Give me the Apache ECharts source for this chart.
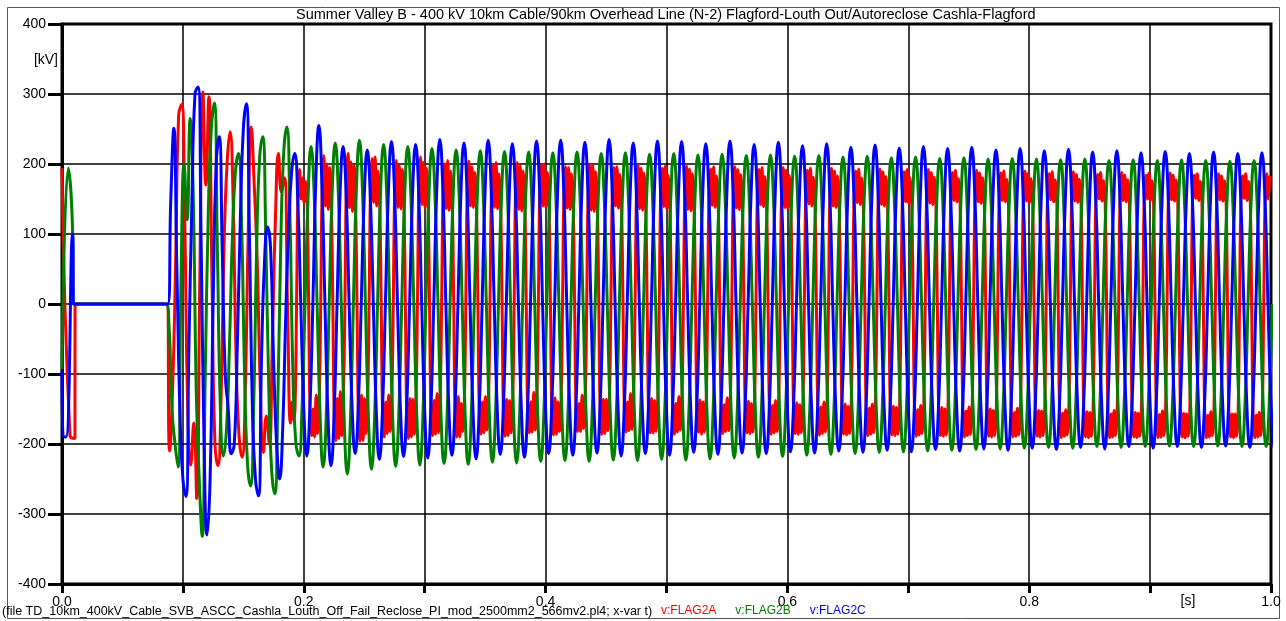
<!DOCTYPE html>
<html>
<head>
<meta charset="utf-8">
<script src="https://cdn.jsdelivr.net/npm/echarts@6/dist/echarts.min.js"></script>
<style>
  html, body { margin: 0; background: #fff; }
  #chart { width: 1286px; height: 621px; }
</style>
</head>
<body>
<div id="chart"></div>
<script>
// sample steps [s]
const dt = 0.0025
const dtFine = 0.00125

// pre-switching segment (t, kV)
const redStartT = [0, 0.0066, 0.0107, 0.0108]
const redStartV = [194, -188, -192, 0]
const greenStartT = [0, 0.0052, 0.0088, 0.0095]
const greenStartV = [-93, 194, 100, 0]
const blueStartT = [0, 0.0011, 0.0033, 0.0088, 0.0096]
const blueStartV = [-95, -190, -190, 100, 0]

// first sample time of each sampled part
const redT0 = 0.0865
const redSteadyT0 = 0.189
const greenT0 = 0.086
const blueT0 = 0.0875

// v:FLAG2A switching transient, step dt
const redTransient = [
  0,
  -210, -120, 60, 270, 285, 120, -150, -230,
  -170, -278, 40, 303, 170, 296, 40, -200,
  -231, -140, 80, 200, 246, 150, -80, -190,
  -219, -130, 100, 253, 170, 60, -120, -212,
  -160, -200, -50, 120, 215, 160, 180, 0
]

// v:FLAG2A after the transient, step dtFine, one cycle per line
const redSteady = [
  -170, -140, -165, -150, 0, 165, 192, 150, 180, 145, 175, 150, 0, -160, -188, -150,
  -190, -130, -185, -140, 0, 175, 212, 140, 200, 135, 195, 150, 0, -170, -195, -135,
  -192, -125, -188, -135, 0, 178, 215, 138, 203, 132, 197, 148, 0, -168, -196, -130,
  -195, -135, -185, -145, 0, 172, 208, 145, 210, 140, 190, 152, 0, -165, -190, -140,
  -185, -130, -182, -140, 0, 170, 205, 138, 198, 136, 192, 150, 0, -168, -192, -135,
  -190, -136, -186, -142, 0, 174, 210, 142, 202, 138, 194, 148, 0, -166, -188, -138,
  -186, -128, -184, -138, 0, 168, 200, 136, 205, 134, 190, 150, 0, -170, -190, -132,
  -190, -142, -182, -146, 0, 172, 204, 140, 196, 138, 188, 146, 0, -164, -186, -140,
  -184, -132, -180, -140, 0, 166, 198, 138, 202, 136, 186, 148, 0, -166, -189, -136,
  -188, -138, -184, -144, 0, 170, 202, 135, 197, 133, 190, 150, 0, -162, -184, -140,
  -183, -126, -180, -138, 0, 168, 199, 140, 200, 138, 188, 146, 0, -165, -187, -134,
  -186, -140, -182, -145, 0, 166, 196, 137, 195, 135, 186, 148, 0, -163, -182, -142,
  -182, -130, -178, -140, 0, 169, 200, 134, 198, 132, 189, 150, 0, -166, -186, -136,
  -185, -136, -181, -143, 0, 167, 195, 140, 196, 137, 185, 147, 0, -162, -183, -140,
  -181, -128, -179, -139, 0, 168, 198, 136, 194, 134, 187, 149, 0, -164, -184, -135,
  -184, -138, -182, -146, 0, 166, 194, 139, 197, 136, 184, 147, 0, -163, -186, -142,
  -183, -132, -180, -141, 0, 168, 197, 135, 193, 133, 186, 150, 0, -165, -183, -137,
  -186, -140, -183, -147, 0, 165, 193, 141, 196, 138, 183, 146, 0, -162, -185, -144,
  -182, -134, -181, -143, 0, 167, 196, 137, 192, 135, 185, 149, 0, -164, -184, -139,
  -185, -142, -183, -148, 0, 165, 192, 142, 195, 139, 182, 147, 0, -163, -186, -145,
  -184, -138, -182, -145, 0, 166, 195, 138, 191, 136, 184, 150, 0, -165, -185, -141,
  -186, -144, -184, -150, 0, 164, 191, 143, 194, 140, 181, 148, 0, -162, -187, -147,
  -185, -140, -183, -147, 0, 166, 194, 140, 190, 138, 183, 150, 0, -164, -186, -143,
  -187, -146, -185, -151, 0, 164, 190, 145, 193, 142, 180, 149, 0, -163, -188, -149,
  -186, -143, -184, -149, 0, 165, 193, 142, 189, 140, 182, 151, 0, -165, -187, -146,
  -188, -148, -186, -153, 0, 163, 189, 146, 192, 144, 180, 150, 0, -162, -189, -151,
  -187, -145, -185, -151, 0, 165, 192, 144, 188, 142, 181, 152, 0, -164, -188, -148,
  -189, -150, -187, -155, 0, 163, 188, 148, 191, 146, 179, 151, 0, -163, -190, -153,
  -188, -147, -186, -153, 0, 164, 191, 146, 187, 144, 180, 153, 0, -165, -189, -150,
  -190, -152, -188, -156, 0, 162, 187, 148, 190, 146, 178, 152, 0, -162, -190, -155,
  -189, -149, -187, -154, 0, 164, 190, 147, 186, 145, 179, 153, 0, -164, -189, -152,
  -190, -153, -188, -157, 0, 162, 186, 149, 189, 146, 177, 152, 0, -163, -191, -156,
  -189, -151, -187, -155, 0, 163, 189, 147, 185, 145, 178, 154, 0, -164, -190, -154,
  -191, -155, -189, -158, 0, 161, 185, 150, 188, 147, 176, 153, 0, -162, -191, -157,
  -190, -152, -188, -156, 0, 163, 188, 148, 184, 146, 177, 154, 0, -164, -190, -155,
  -191, -156, -189, -159, 0, 161, 184, 150, 187, 148, 176, 154, 0, -163, -191, -158,
  -190, -153, -188, -157, 0, 162, 187, 149, 184, 147, 177, 155, 0, -164, -190, -156,
  -191, -157, -189, -160, 0, 161, 184, 151, 186, 148, 175, 154, 0, -162, -191, -159,
  -190, -154, -188, -158, 0, 162, 186, 149, 183, 147, 176, 155, 0, -164, -190, -157,
  -191, -157, -189, -160, 0, 161, 183, 151, 186, 148, 175, 155, 0, -163, -191, -159,
  -190, -155, -188, -158, 0, 162, 186, 150, 183
]

// v:FLAG2B, step dt, one cycle per line
const greenWave = [
  0, -30, -150, -200,
  -233, 40, 200, 120, 265, 160, -120, -250,
  -332, -100, 130, 250, 287, 80, -150, -217,
  -180, -60, 100, 190, 215, 120, -100, -230,
  -260, -150, 80, 210, 239, 100, -120, -240,
  -271, -140, 90, 220, 253, 130, -100, -200,
  -217, -150, 0, 150, 225, 160, 0, -160,
  -233, -164, 0, 161, 230, 161, 0, -170,
  -243, -170, 0, 164, 234, 164, 0, -165,
  -236, -165, 0, 160, 228, 160, 0, -162,
  -232, -162, 0, 158, 225, 158, 0, -161,
  -230, -161, 0, 155, 222, 155, 0, -160,
  -228, -160, 0, 154, 220, 154, 0, -160,
  -229, -160, 0, 153, 219, 153, 0, -158,
  -226, -158, 0, 153, 218, 153, 0, -159,
  -227, -159, 0, 152, 217, 152, 0, -158,
  -225, -158, 0, 151, 216, 152, 0, -157,
  -224, -157, 0, 152, 217, 152, 0, -158,
  -225, -157, 0, 150, 215, 150, 0, -156,
  -223, -156, 0, 151, 216, 151, 0, -157,
  -224, -157, 0, 150, 214, 150, 0, -155,
  -222, -155, 0, 150, 215, 150, 0, -156,
  -223, -156, 0, 149, 213, 149, 0, -155,
  -221, -155, 0, 150, 214, 150, 0, -154,
  -220, -154, 0, 148, 212, 148, 0, -153,
  -219, -153, 0, 149, 213, 149, 0, -153,
  -218, -153, 0, 148, 211, 148, 0, -151,
  -216, -151, 0, 148, 212, 148, 0, -150,
  -215, -150, 0, 147, 210, 147, 0, -150,
  -214, -150, 0, 148, 211, 148, 0, -148,
  -212, -148, 0, 146, 209, 146, 0, -148,
  -211, -148, 0, 147, 210, 147, 0, -147,
  -210, -147, 0, 146, 208, 146, 0, -146,
  -209, -146, 0, 146, 209, 146, 0, -146,
  -208, -146, 0, 145, 207, 145, 0, -145,
  -207, -145, 0, 146, 208, 146, 0, -144,
  -206, -144, 0, 145, 207, 145, 0, -144,
  -205, -144, 0, 144, 206, 144, 0, -144,
  -206, -144, 0, 145, 207, 145, 0, -143,
  -204, -143, 0, 144, 205, 144, 0, -144,
  -205, -144, 0, 144, 206, 144, 0, -143,
  -204, -143, 0, 144, 205, 144, 0, -142,
  -203, -142, 0, 144, 206, 144, 0, -143,
  -204, -143, 0, 144, 205, 144, 0, -142,
  -203, -142, 0, 143, 204, 143, 0, -143,
  -204, -143, 0, 144, 205, 144, 0, -143,
  -204, -143, 0
]

// v:FLAG2C, step dt, one cycle per line
const blueWave = [
  0, 150, 251, 50, -150, -250,
  -275, -60, 150, 300, 310, 100, -200, -330,
  -250, 0, 200, 239, 80, -100, -150, -214,
  -200, -60, 120, 250, 286, 100, -150, -250,
  -274, -80, 60, 110, 80, -80, -200, -250,
  -180, -20, 110, 190, 215, 150, 0, -150,
  -217, -150, 0, 180, 255, 170, 0, -160,
  -231, -162, 0, 158, 225, 158, 0, -150,
  -214, -150, 0, 154, 220, 154, 0, -155,
  -222, -155, 0, 162, 232, 162, 0, -153,
  -218, -153, 0, 160, 228, 160, 0, -154,
  -220, -154, 0, 165, 235, 165, 0, -151,
  -216, -151, 0, 161, 230, 161, 0, -155,
  -221, -155, 0, 164, 234, 164, 0, -150,
  -215, -150, 0, 160, 229, 160, 0, -153,
  -219, -153, 0, 163, 233, 163, 0, -150,
  -214, -150, 0, 164, 234, 164, 0, -151,
  -216, -151, 0, 162, 231, 162, 0, -149,
  -213, -149, 0, 165, 235, 165, 0, -152,
  -217, -152, 0, 161, 230, 161, 0, -150,
  -214, -150, 0, 163, 233, 163, 0, -151,
  -216, -151, 0, 162, 232, 162, 0, -148,
  -212, -148, 0, 160, 229, 160, 0, -150,
  -215, -150, 0, 163, 233, 163, 0, -149,
  -213, -149, 0, 160, 228, 160, 0, -150,
  -214, -150, 0, 162, 231, 162, 0, -148,
  -211, -148, 0, 158, 226, 158, 0, -149,
  -213, -149, 0, 160, 229, 160, 0, -147,
  -210, -147, 0, 157, 224, 157, 0, -148,
  -212, -148, 0, 159, 227, 159, 0, -146,
  -209, -146, 0, 156, 223, 156, 0, -148,
  -211, -148, 0, 158, 225, 158, 0, -146,
  -208, -146, 0, 155, 222, 155, 0, -147,
  -210, -147, 0, 157, 224, 157, 0, -145,
  -207, -145, 0, 154, 220, 154, 0, -146,
  -209, -146, 0, 155, 222, 155, 0, -144,
  -206, -144, 0, 153, 219, 153, 0, -146,
  -208, -146, 0, 155, 221, 155, 0, -144,
  -205, -144, 0, 152, 217, 152, 0, -145,
  -207, -145, 0, 153, 219, 153, 0, -143,
  -204, -143, 0, 151, 216, 151, 0, -144,
  -206, -144, 0, 153, 218, 153, 0, -143,
  -204, -143, 0, 150, 215, 150, 0, -144,
  -205, -144, 0, 152, 217, 152, 0, -142,
  -203, -142, 0, 150, 215, 150, 0, -144,
  -205, -144, 0, 151, 216, 151, 0, -144,
  -205
]

const seriesNames = ['v:FLAG2A', 'v:FLAG2B', 'v:FLAG2C']
const seriesColors = ['#ff0000', '#008000', '#0000ff']

const titleText = 'Summer Valley B - 400 kV 10km Cable/90km Overhead Line (N-2) Flagford-Louth Out/Autoreclose Cashla-Flagford'
const fileText = '(file TD_10km_400kV_Cable_SVB_ASCC_Cashla_Louth_Off_Fail_Reclose_PI_mod_2500mm2_566mv2.pl4; x-var t)'

const FONT = '"Liberation Sans", Arial, sans-serif'

function pairs(ts, vs) {
  return ts.map((t, i) => [t, vs[i]])
}

function sampled(t0, step, values) {
  return values.map((v, i) => [+(t0 + i * step).toFixed(5), v])
}

const seriesData = [
  pairs(redStartT, redStartV)
    .concat(sampled(redT0, dt, redTransient))
    .concat(sampled(redSteadyT0, dtFine, redSteady)),
  pairs(greenStartT, greenStartV).concat(sampled(greenT0, dt, greenWave)),
  pairs(blueStartT, blueStartV).concat(sampled(blueT0, dt, blueWave)),
]

const chart = echarts.init(document.getElementById('chart'), null, { renderer: 'canvas' })

chart.setOption({
  animation: false,
  title: {
    text: titleText,
    left: 296,
    top: 7,
    padding: 0,
    textStyle: { fontSize: 14.5, fontWeight: 'normal', color: '#000', fontFamily: FONT },
  },
  legend: {
    left: 656,
    top: 605,
    padding: 0,
    icon: 'none',
    itemWidth: 0,
    itemHeight: 0,
    itemGap: 14,
    selectedMode: false,
    textStyle: { fontSize: 12, fontFamily: FONT },
    data: seriesNames.map((n, i) => ({ name: n, textStyle: { color: seriesColors[i] } })),
  },
  grid: {
    left: 62,
    right: 15,
    top: 24,
    bottom: 37,
    show: true,
    borderColor: '#000',
    borderWidth: 3,
  },
  xAxis: {
    type: 'value',
    min: 0,
    max: 1,
    interval: 0.1,
    axisLine: { onZero: false, lineStyle: { color: '#000', width: 3 } },
    axisTick: { length: 9, lineStyle: { color: '#000', width: 3 } },
    axisLabel: {
      color: '#000',
      fontSize: 14,
      fontFamily: FONT,
      margin: 11,
      formatter: v => (Math.round(v * 10) % 2 === 0 ? v.toFixed(1) : ''),
    },
    splitLine: { lineStyle: { color: '#000', width: 1.5 } },
  },
  yAxis: {
    type: 'value',
    min: -400,
    max: 400,
    interval: 100,
    axisLine: { show: true, lineStyle: { color: '#000', width: 3 } },
    axisTick: { show: true, length: 14, lineStyle: { color: '#000', width: 3 } },
    axisLabel: { color: '#000', fontSize: 14, fontFamily: FONT, margin: 16 },
    splitLine: { lineStyle: { color: '#000', width: 1.5 } },
  },
  graphic: [
    {
      type: 'rect',
      shape: { x: 7.5, y: 7.5, width: 1272, height: 611 },
      style: { fill: 'none', stroke: '#555', lineWidth: 1 },
      silent: true,
    },
    {
      type: 'text',
      x: 58, y: 60,
      style: { text: '[kV]', align: 'right', verticalAlign: 'middle', fontSize: 14, fontFamily: FONT, fill: '#000' },
    },
    {
      type: 'text',
      x: 1188, y: 601,
      style: { text: '[s]', align: 'center', verticalAlign: 'middle', fontSize: 14, fontFamily: FONT, fill: '#000' },
    },
    {
      type: 'text',
      x: 2, y: 612,
      style: { text: fileText, align: 'left', verticalAlign: 'middle', fontSize: 12.5, fontFamily: FONT, fill: '#000' },
    },
  ],
  series: seriesNames.map((n, i) => ({
    name: n,
    type: 'line',
    data: seriesData[i],
    showSymbol: false,
    smooth: 0.5,
    clip: true,
    color: seriesColors[i],
    lineStyle: { width: 3, color: seriesColors[i] },
  })),
})
</script>
</body>
</html>
